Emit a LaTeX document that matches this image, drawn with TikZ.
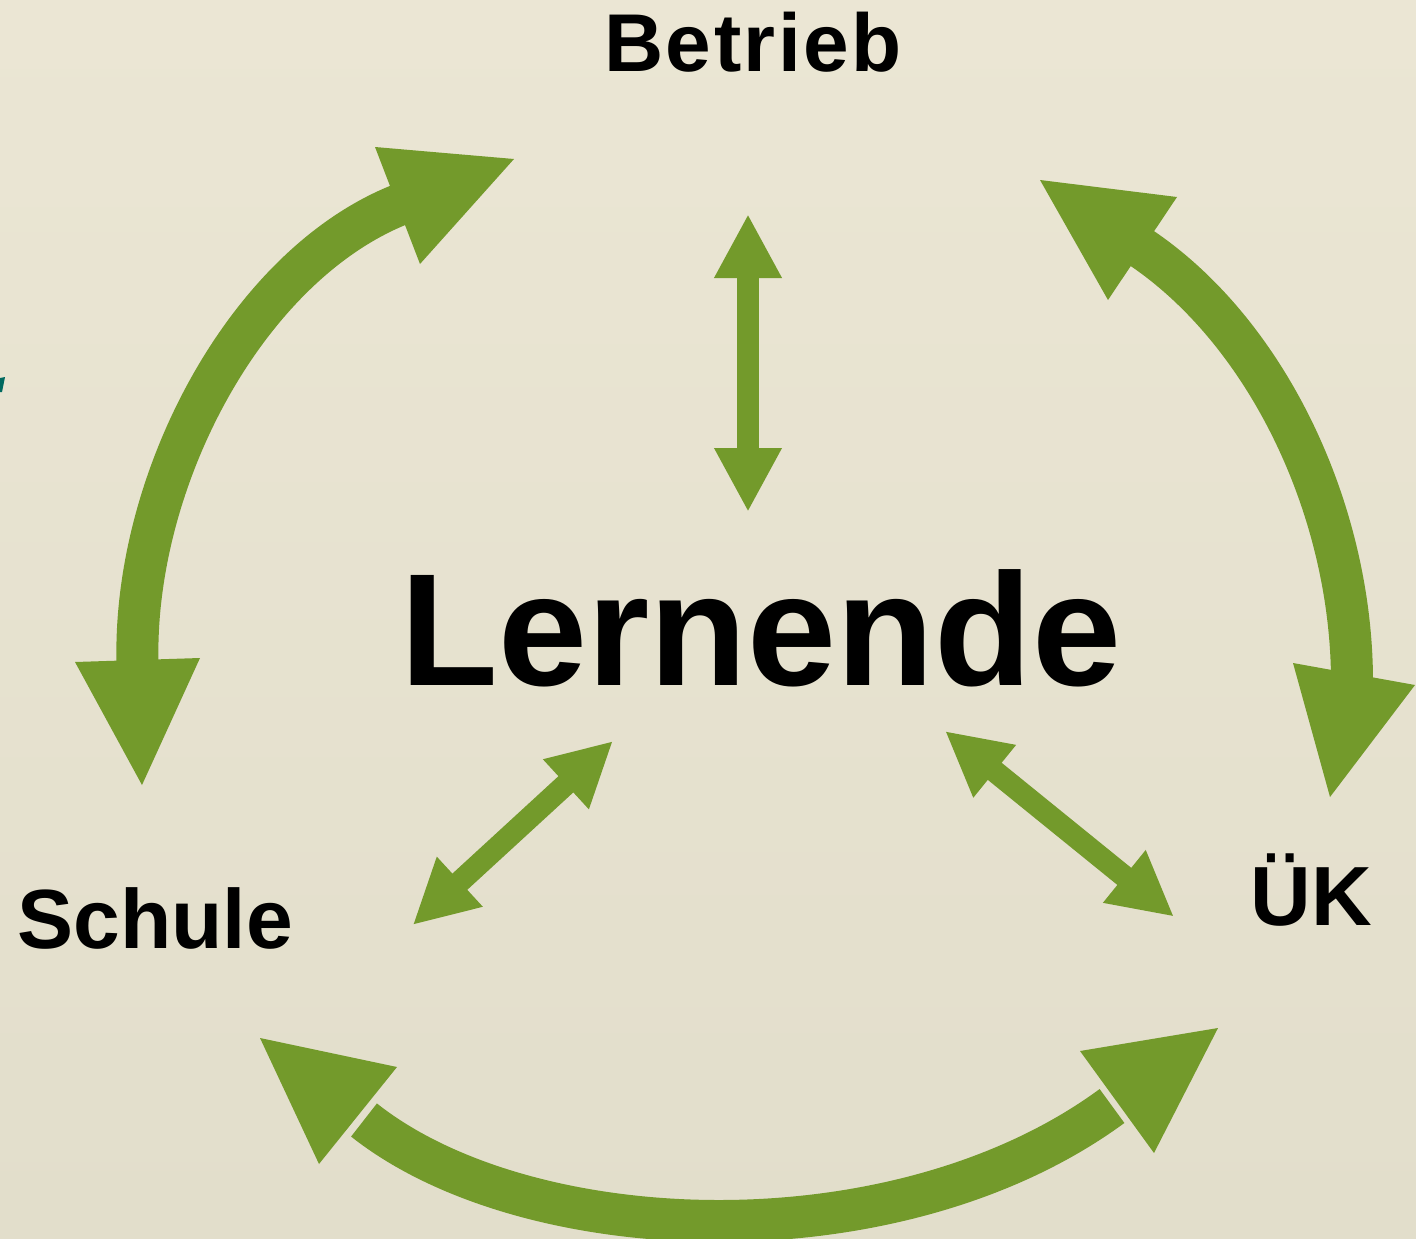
\documentclass[tikz,border=0pt]{standalone}
\usepackage{fontspec}
\setmainfont{Liberation Sans}
\usetikzlibrary{arrows.meta}
\definecolor{bgtop}{RGB}{235,230,212}
\definecolor{bgbot}{RGB}{226,222,203}
\definecolor{arrowgreen}{RGB}{115,154,43}
\definecolor{tealmark}{RGB}{0,105,95}
\tikzset{
  label/.style={inner sep=0pt, anchor=base, text=black, font=\bfseries\fontsize{#1}{#1}\selectfont},
  bigshaft/.style={draw=arrowgreen, line width=42pt, line cap=butt},
  bighead/.style={fill=arrowgreen, draw=none},
  smallarrow/.style={draw=arrowgreen, line width=22pt,
    {Triangle[length=64pt,width=63pt]}-{Triangle[length=64pt,width=63pt]}}
}
\begin{document}
\begin{tikzpicture}[x=1pt,y=-1pt]
\useasboundingbox (0,0) rectangle (1416,1239);
\shade[top color=bgtop,bottom color=bgbot] (0,0) rectangle (1416,1239);
% small teal fragment at left edge
\fill[tealmark] (0,378) -- (5,377) -- (2,392) -- (0,392) -- cycle;

% labels
\node[label=82] (betrieb) at (753,72) {\addfontfeature{LetterSpace=3}Betrieb};
\node[label=160] (lernende) at (761,685) {Lernende};
\node[label=84] (schule) at (155,948) {Schule};
\node[label=84] (uek) at (1311,925) {ÜK};

% ---- left curved arrow (Schule <-> Betrieb)
\coordinate (lA) at (137.5,663);
\coordinate (lB) at (400,204.5);
\draw[bigshaft] (lA) .. controls (133,480) and (246,266) .. (lB);
\fill[bighead] (375,147) -- (514,159) -- (420,264) -- cycle;
\fill[bighead] (75,662) -- (200,658) -- (142,785) -- cycle;

% ---- right curved arrow (Betrieb <-> ÜK)
\coordinate (rA) at (1140,247);
\coordinate (rB) at (1352,682);
\draw[bigshaft] (rA) .. controls (1267,332) and (1352,510) .. (rB);
\fill[bighead] (1040,180) -- (1177,197) -- (1108,300) -- cycle;
\fill[bighead] (1293,663) -- (1415,685) -- (1330,797) -- cycle;

% ---- bottom curved arrow (Schule <-> ÜK)
\coordinate (bA) at (364,1120);
\coordinate (bB) at (1112,1106);
\draw[bigshaft] (bA) .. controls (528,1250) and (897,1264) .. (bB);
\fill[bighead] (260,1038) -- (397,1067) -- (319,1164) -- cycle;
\fill[bighead] (1218,1028) -- (1080,1051) -- (1154,1153) -- cycle;

% ---- small arrows to Lernende
\coordinate (v1) at (748,214);
\coordinate (v2) at (748,512);
\draw[smallarrow] (v1) -- (v2);
\coordinate (ll1) at (613,741);
\coordinate (ll2) at (412.7,925);
\draw[smallarrow] (ll1) -- (ll2);
\coordinate (lr1) at (945,731);
\coordinate (lr2) at (1174,916.7);
\draw[smallarrow] (lr1) -- (lr2);
\end{tikzpicture}
\end{document}
